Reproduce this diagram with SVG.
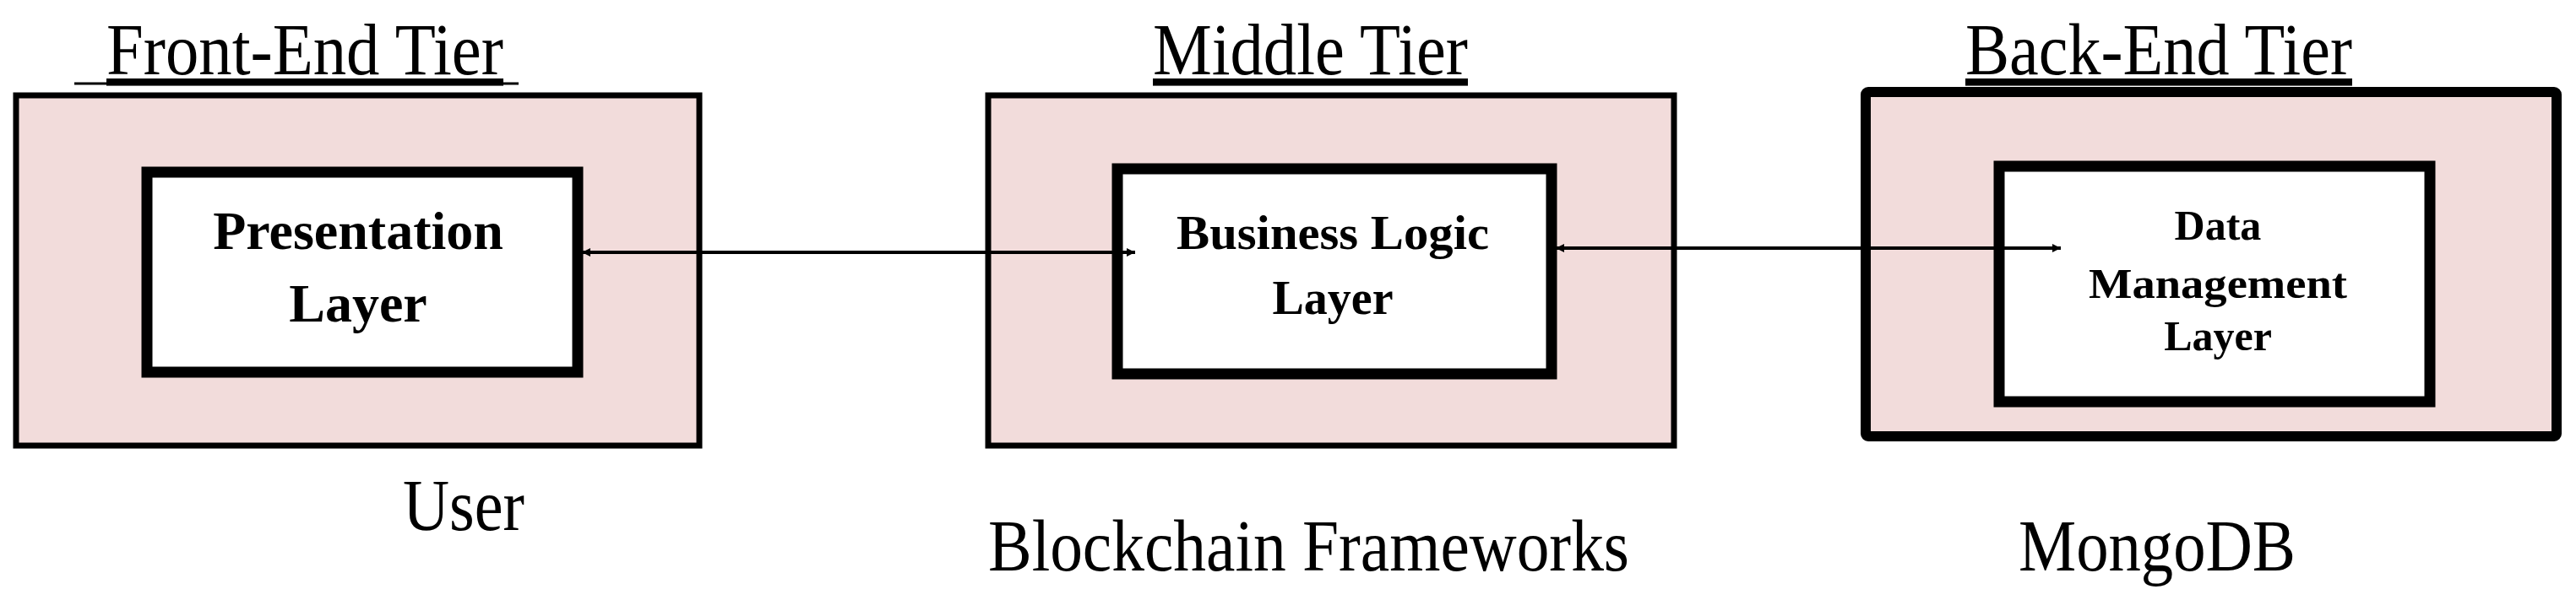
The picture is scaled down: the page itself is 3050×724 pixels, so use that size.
<svg xmlns="http://www.w3.org/2000/svg" width="3050" height="724" viewBox="0 0 3050 724">
<style>
.outer{fill:#f2dcdb;stroke:#000;stroke-width:7}
.inner{fill:#fff;stroke:#000;stroke-width:13}
.title{font-family:"Liberation Serif",serif;font-size:86px;text-decoration:underline}
.lbl{font-family:"Liberation Serif",serif;font-size:86px}
.b{font-family:"Liberation Serif",serif;font-weight:bold;text-anchor:middle}
.conn{stroke:#000;stroke-width:4;fill:none}
</style>
<defs>
<marker id="ah" viewBox="0 0 10 10" refX="10" refY="5" markerWidth="10" markerHeight="10" markerUnits="userSpaceOnUse" orient="auto-start-reverse"><path d="M0,0 L10,5 L0,10 z" fill="#000"/></marker>
</defs>
<g id="front">
<text class="title" x="126" y="88" textLength="470" lengthAdjust="spacingAndGlyphs">Front-End Tier</text>
<line x1="88" y1="99" x2="614" y2="99" stroke="#000" stroke-width="3"/>
<rect class="outer" x="19" y="113" width="809" height="415"/>
<rect class="inner" x="174" y="204" width="510" height="237"/>
<text class="b" x="424" y="295" font-size="64">Presentation</text>
<text class="b" x="424" y="381" font-size="64">Layer</text>
<text class="lbl" x="477" y="628" textLength="144" lengthAdjust="spacingAndGlyphs">User</text>
</g>
<g id="middle">
<text class="title" x="1365" y="88" textLength="373" lengthAdjust="spacingAndGlyphs">Middle Tier</text>
<rect class="outer" x="1170" y="113" width="812" height="415"/>
<rect class="inner" x="1323" y="200" width="514" height="243"/>
<text class="b" x="1578" y="295" font-size="56" textLength="370" lengthAdjust="spacingAndGlyphs">Business Logic</text>
<text class="b" x="1578" y="372" font-size="56">Layer</text>
<text class="lbl" x="1170" y="676" textLength="759" lengthAdjust="spacingAndGlyphs">Blockchain Frameworks</text>
</g>
<g id="back">
<text class="title" x="2327" y="88" textLength="458" lengthAdjust="spacingAndGlyphs">Back-End Tier</text>
<rect x="2209" y="109" width="818" height="408" fill="#f2dcdb" stroke="#000" stroke-width="12" rx="3"/>
<rect class="inner" x="2367" y="197" width="510" height="279"/>
<text class="b" x="2626" y="284" font-size="50">Data</text>
<text class="b" x="2626" y="353" font-size="50" textLength="306" lengthAdjust="spacingAndGlyphs">Management</text>
<text class="b" x="2626" y="415" font-size="50">Layer</text>
<text class="lbl" x="2390" y="676" textLength="328" lengthAdjust="spacingAndGlyphs">MongoDB</text>
</g>
<g id="connectors">
<line class="conn" x1="689" y1="299" x2="1344" y2="299" marker-start="url(#ah)" marker-end="url(#ah)" style="marker-start:url(#ah)"/>
<line class="conn" x1="1842" y1="294" x2="2440" y2="294" marker-start="url(#ah)" marker-end="url(#ah)"/>
</g>
</svg>
